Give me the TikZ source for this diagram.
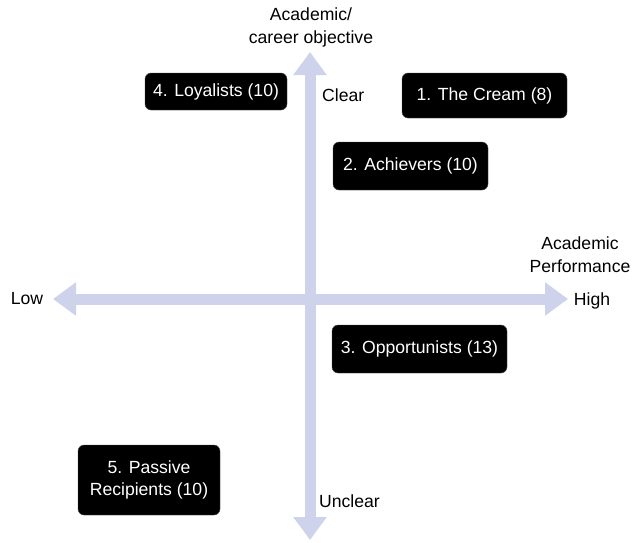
\documentclass[tikz,border=0pt]{standalone}
\usepackage{fontspec}
\setmainfont{Liberation Sans}
\usetikzlibrary{arrows.meta}
\definecolor{axiscol}{RGB}{206,210,234}
\begin{document}
\begin{tikzpicture}[x=1pt,y=-1pt,
  catbox/.style={fill=black,draw=black!70,rounded corners=6pt,text=white,
    font=\fontsize{17.6}{22}\selectfont,align=center,inner sep=0pt},
  lbl/.style={font=\fontsize{17.6}{23}\selectfont,align=center,inner sep=0pt},
  axis/.style={draw=axiscol,line width=11pt,
    {Triangle[width=32pt,length=23pt]}-{Triangle[width=32pt,length=23pt]}}]
\useasboundingbox (0,0) rectangle (633,542);
% axes
\coordinate (top) at (310,52);
\coordinate (bot) at (310,540);
\coordinate (lft) at (53,299);
\coordinate (rgt) at (568,299);
\draw[axis] (bot) -- (top);
\draw[axis] (lft) -- (rgt);
% axis labels
\node[lbl] (ylab) at (311,27) {Academic/\\career objective};
\node[lbl] (xlab) at (580,255) {Academic\\Performance};
\node[lbl] (low) at (27,299) {Low};
\node[lbl] (high) at (592,301) {High};
\node[lbl,anchor=west] (clear) at (322,95) {Clear};
\node[lbl,anchor=west] (unclear) at (319,501) {Unclear};
% categories
\node[catbox,minimum width=165pt,minimum height=45pt] (cream) at (484.5,95.5) {1. The Cream (8)};
\node[catbox,minimum width=155pt,minimum height=48pt] (ach) at (410.5,166) {2. Achievers (10)};
\node[catbox,minimum width=175pt,minimum height=48pt] (opp) at (419.5,349) {3. Opportunists (13)};
\node[catbox,minimum width=142pt,minimum height=37pt] (loy) at (216,91.5) {4. Loyalists (10)};
\node[catbox,minimum width=142pt,minimum height=70pt] (pas) at (149,480) {5. Passive\\Recipients (10)};
\end{tikzpicture}
\end{document}
